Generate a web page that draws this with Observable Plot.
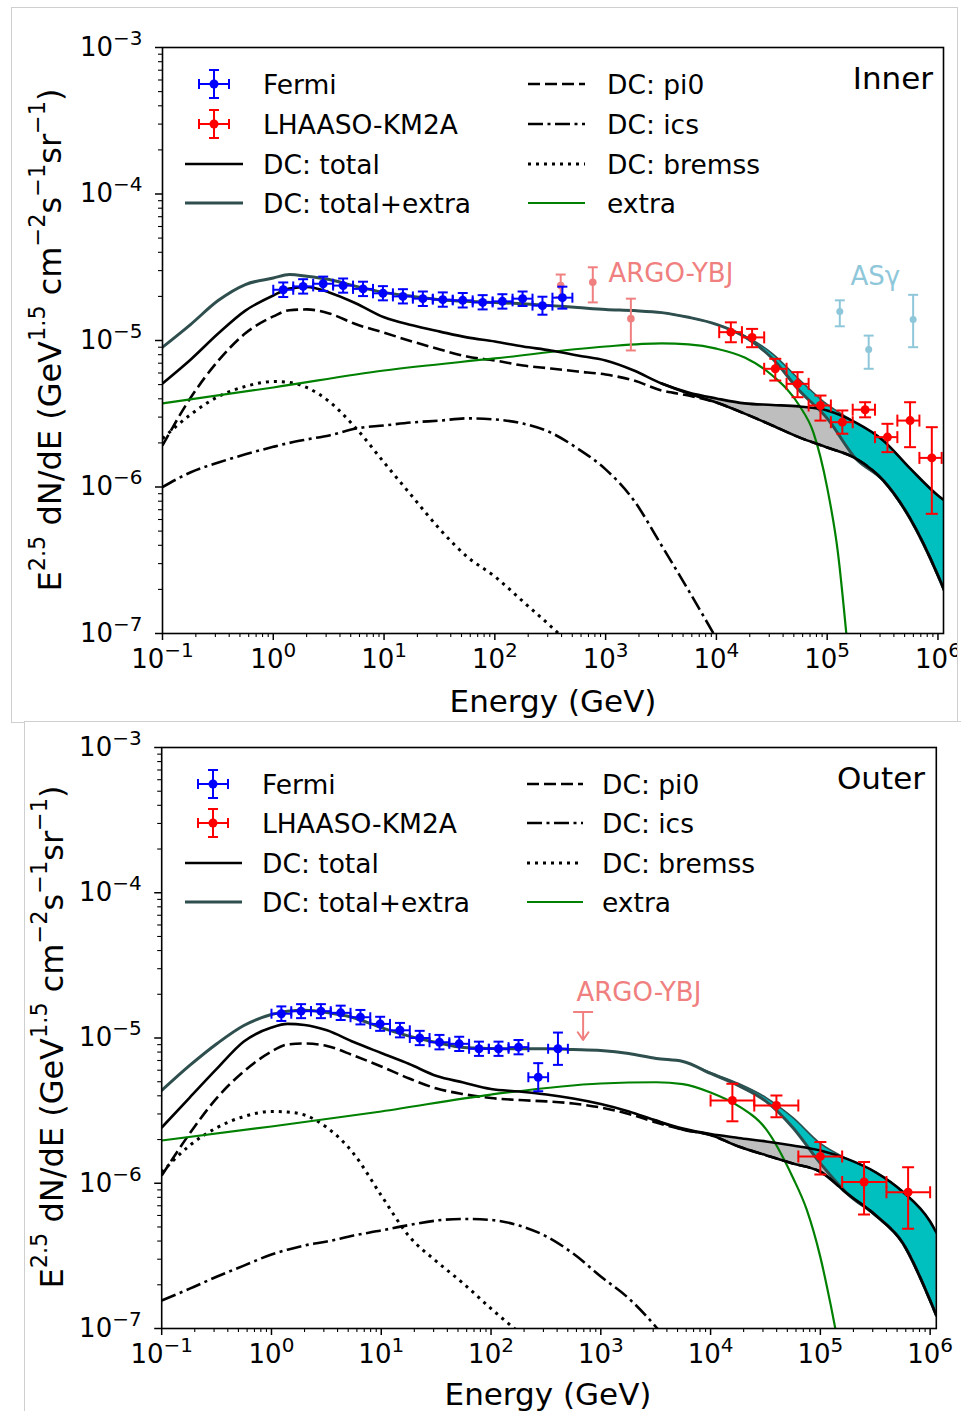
<!DOCTYPE html>
<html><head><meta charset="utf-8">
<script src="https://cdn.jsdelivr.net/npm/d3@7"></script>
<script src="https://cdn.jsdelivr.net/npm/@observablehq/plot@0.6"></script>
<style>
body{margin:0;background:#fff;font-family:"DejaVu Sans",sans-serif;}
#page{position:relative;width:961px;height:1411px;overflow:hidden;background:#fff;}
.panel{position:absolute;overflow:hidden;background:#fff;outline:1px solid #cfcfcf;}
.panel svg{display:block;}
</style></head><body><div id="page"></div>
<script>
// ================= DATA =================
// Energy grid (GeV) for model curves
const E  = [0.1,0.18,0.32,0.56,1,1.4,2,3.2,5.6,10,18,32,56,100,180,320,560,1000,1800,3200,5600,1e4,1.8e4,3.2e4,5.6e4,1e5,1.8e5,3.2e5,5.6e5,1e6,1.14e6];
// Energy grid for the uncertainty bands
const EH = [3200,5600,1e4,1.8e4,3.2e4,5.6e4,1e5,1.8e5,3.2e5,5.6e5,1e6,1.14e6];
// Energy grid for the "extra" component
const EX = [0.1,1,10,100,1000,3200,5600,1e4,1.8e4,3.2e4,5.6e4,7.5e4,1e5,1.25e5,1.5e5];

// ---- Inner region ----
const innerPlus   = [9.0e-6,1.29e-5,1.88e-5,2.41e-5,2.67e-5,2.82e-5,2.75e-5,2.61e-5,2.34e-5,2.13e-5,2.0e-5,1.90e-5,1.85e-5,1.82e-5,1.78e-5,1.73e-5,1.68e-5,1.63e-5,1.60e-5,1.55e-5,1.44e-5,1.29e-5,1.06e-5,7.54e-6,4.56e-6,2.94e-6,1.57e-6,1.11e-6,6.1e-7,2.49e-7,1.97e-7];
const innerTotal  = [5.09e-6,7.42e-6,1.12e-5,1.60e-5,2.03e-5,2.26e-5,2.32e-5,2.13e-5,1.79e-5,1.44e-5,1.27e-5,1.15e-5,1.05e-5,9.84e-6,9.1e-6,8.55e-6,7.9e-6,7.3e-6,6.24e-6,5.09e-6,4.42e-6,4.02e-6,3.72e-6,3.63e-6,3.54e-6,3.33e-6,2.76e-6,2.08e-6,1.34e-6,8.75e-7,8.1e-7];
const innerPi0    = [1.92e-6,4.08e-6,7.3e-6,1.12e-5,1.46e-5,1.61e-5,1.63e-5,1.53e-5,1.29e-5,1.13e-5,9.84e-6,8.68e-6,7.78e-6,7.3e-6,6.75e-6,6.44e-6,6.14e-6,5.86e-6,5.33e-6,4.56e-6,4.21e-6,3.77e-6,3.17e-6,2.63e-6,2.18e-6,1.86e-6,1.57e-6,1.11e-6,6.1e-7,2.49e-7,1.97e-7];
const innerBremss = [2.14e-6,3.13e-6,4.15e-6,4.86e-6,5.25e-6,5.17e-6,4.78e-6,3.83e-6,2.51e-6,1.47e-6,8.61e-7,5.13e-7,3.35e-7,2.45e-7,1.65e-7,1.12e-7,7.5e-8,null,null,null,null,null,null,null,null,null,null,null,null,null,null];
const innerIcs    = [1.0e-6,1.26e-6,1.47e-6,1.67e-6,1.88e-6,2.0e-6,2.11e-6,2.25e-6,2.51e-6,2.63e-6,2.76e-6,2.84e-6,2.94e-6,2.89e-6,2.71e-6,2.35e-6,1.83e-6,1.32e-6,8.09e-7,3.99e-7,1.97e-7,9.25e-8,null,null,null,null,null,null,null,null,null];
const innerExtra  = [3.72e-6,4.78e-6,6.24e-6,7.54e-6,9.1e-6,9.55e-6,9.4e-6,8.8e-6,7.65e-6,5.77e-6,3.6e-6,2.36e-6,9.9e-7,3.57e-7,9.4e-8];
const innerTotHi  = [5.09e-6,4.42e-6,4.02e-6,3.72e-6,3.63e-6,3.54e-6,3.33e-6,2.76e-6,2.08e-6,1.34e-6,8.75e-7,8.1e-7];
const innerTotLo  = [5.09e-6,4.35e-6,3.77e-6,3.17e-6,2.63e-6,2.18e-6,1.86e-6,1.57e-6,1.11e-6,6.1e-7,2.49e-7,1.97e-7];
const innerPlusHi = [1.55e-5,1.44e-5,1.29e-5,1.08e-5,8.15e-6,5.42e-6,3.66e-6,2.76e-6,2.08e-6,1.34e-6,8.75e-7,8.1e-7];
const innerPlusLo = [1.55e-5,1.44e-5,1.29e-5,1.06e-5,7.54e-6,4.56e-6,2.94e-6,1.57e-6,1.11e-6,6.1e-7,2.49e-7,1.97e-7];

// ---- Outer region ----
const outerPlus   = [4.35e-6,6.47e-6,9.17e-6,1.22e-5,1.45e-5,1.53e-5,1.55e-5,1.50e-5,1.38e-5,1.18e-5,1.03e-5,9.31e-6,8.6e-6,8.47e-6,8.43e-6,8.43e-6,8.33e-6,8.2e-6,7.82e-6,7.22e-6,6.89e-6,5.7e-6,4.7e-6,3.66e-6,2.42e-6,1.37e-6,8.36e-7,6.0e-7,3.9e-7,1.56e-7,1.23e-7];
const outerTotal  = [2.42e-6,3.89e-6,6.17e-6,9.46e-6,1.18e-5,1.25e-5,1.23e-5,1.13e-5,9.38e-6,7.88e-6,6.62e-6,5.47e-6,4.94e-6,4.46e-6,4.28e-6,4.08e-6,3.83e-6,3.51e-6,3.12e-6,2.70e-6,2.38e-6,2.18e-6,2.05e-6,1.94e-6,1.82e-6,1.68e-6,1.46e-6,1.19e-6,8.77e-7,5.45e-7,4.58e-7];
const outerPi0    = [1.13e-6,2.2e-6,3.89e-6,5.88e-6,8.07e-6,9.02e-6,9.16e-6,8.81e-6,7.58e-6,6.37e-6,5.26e-6,4.49e-6,4.11e-6,3.86e-6,3.74e-6,3.66e-6,3.54e-6,3.32e-6,3.0e-6,2.62e-6,2.34e-6,2.15e-6,1.79e-6,1.56e-6,1.37e-6,1.2e-6,8.36e-7,6.0e-7,3.9e-7,1.56e-7,1.23e-7];
const outerBremss = [1.19e-6,1.82e-6,2.42e-6,2.88e-6,3.12e-6,3.09e-6,2.95e-6,2.42e-6,1.60e-6,8.24e-7,4.3e-7,2.89e-7,2.04e-7,1.37e-7,9.4e-8,null,null,null,null,null,null,null,null,null,null,null,null,null,null,null,null];
const outerIcs    = [1.56e-7,1.88e-7,2.28e-7,2.71e-7,3.23e-7,3.49e-7,3.73e-7,3.97e-7,4.37e-7,4.73e-7,5.16e-7,5.54e-7,5.68e-7,5.59e-7,5.12e-7,4.3e-7,3.28e-7,2.28e-7,1.61e-7,1.02e-7,6e-8,null,null,null,null,null,null,null,null,null,null];
const outerExtra  = [1.97e-6,2.46e-6,3.12e-6,4.08e-6,4.86e-6,4.96e-6,4.82e-6,4.22e-6,3.4e-6,2.36e-6,1.1e-6,6.6e-7,3.1e-7,1.42e-7,7e-8];
const outerTotHi  = [2.70e-6,2.38e-6,2.18e-6,2.05e-6,1.94e-6,1.82e-6,1.68e-6,1.46e-6,1.19e-6,8.77e-7,5.45e-7,4.58e-7];
const outerTotLo  = [2.70e-6,2.34e-6,2.15e-6,1.79e-6,1.56e-6,1.37e-6,1.2e-6,8.36e-7,6.0e-7,3.9e-7,1.56e-7,1.23e-7];
const outerPlusHi = [7.22e-6,6.89e-6,5.78e-6,4.86e-6,3.89e-6,2.84e-6,1.88e-6,1.46e-6,1.19e-6,8.77e-7,5.45e-7,4.58e-7];
const outerPlusLo = [7.22e-6,6.89e-6,5.7e-6,4.7e-6,3.66e-6,2.42e-6,1.37e-6,8.36e-7,6.0e-7,3.9e-7,1.56e-7,1.23e-7];

// ---- Fermi data ----
const fermiE   = [1.23,1.86,2.82,4.27,6.46,9.77,14.8,22.4,33.9,51.3,77.6,117,178,269,407];
const fermiElo = [1.0,1.514,2.291,3.467,5.248,7.943,12.02,18.2,27.54,41.69,63.1,95.5,144.5,218.8,331.1];
const fermiEhi = [1.514,2.291,3.467,5.248,7.943,12.02,18.2,27.54,41.69,63.1,95.5,144.5,218.8,331.1,501.2];
const innerFermiF  = [2.22e-5,2.34e-5,2.44e-5,2.37e-5,2.25e-5,2.10e-5,2.0e-5,1.93e-5,1.90e-5,1.88e-5,1.82e-5,1.85e-5,1.93e-5,1.73e-5,1.96e-5];
const innerFermiLo = [1.98e-5,2.09e-5,2.18e-5,2.12e-5,2.01e-5,1.88e-5,1.79e-5,1.72e-5,1.70e-5,1.68e-5,1.63e-5,1.65e-5,1.72e-5,1.50e-5,1.65e-5];
const innerFermiHi = [2.49e-5,2.62e-5,2.73e-5,2.65e-5,2.52e-5,2.35e-5,2.24e-5,2.16e-5,2.13e-5,2.11e-5,2.04e-5,2.07e-5,2.16e-5,1.99e-5,2.33e-5];
const outerFermiF  = [1.47e-5,1.53e-5,1.53e-5,1.49e-5,1.39e-5,1.25e-5,1.13e-5,1.0e-5,9.35e-6,9.12e-6,8.43e-6,8.43e-6,8.65e-6,5.37e-6,8.43e-6];
const outerFermiLo = [1.31e-5,1.37e-5,1.37e-5,1.33e-5,1.24e-5,1.12e-5,1.01e-5,8.93e-6,8.35e-6,8.14e-6,7.53e-6,7.53e-6,7.72e-6,4.30e-6,6.53e-6];
const outerFermiHi = [1.65e-5,1.71e-5,1.71e-5,1.67e-5,1.56e-5,1.40e-5,1.27e-5,1.12e-5,1.05e-5,1.02e-5,9.44e-6,9.44e-6,9.69e-6,6.71e-6,1.09e-5];

// ---- LHAASO-KM2A data ----
const innerLhE   = [1.35e4,2.1e4,3.4e4,5.4e4,8.7e4,1.37e5,2.2e5,3.5e5,5.6e5,8.8e5];
const innerLhElo = [1.06e4,1.7e4,2.7e4,4.3e4,6.8e4,1.08e5,1.7e5,2.7e5,4.3e5,6.8e5];
const innerLhEhi = [1.7e4,2.7e4,4.3e4,6.8e4,1.08e5,1.7e5,2.7e5,4.3e5,6.8e5,1.08e6];
const innerLhF   = [1.14e-5,1.05e-5,6.41e-6,5.06e-6,3.60e-6,2.77e-6,3.37e-6,2.19e-6,2.84e-6,1.58e-6];
const innerLhLo  = [9.73e-6,9.0e-6,5.33e-6,4.10e-6,2.84e-6,2.31e-6,2.99e-6,1.73e-6,1.87e-6,6.56e-7];
const innerLhHi  = [1.33e-5,1.20e-5,7.50e-6,6.08e-6,4.21e-6,3.33e-6,3.79e-6,2.70e-6,3.79e-6,2.56e-6];
const outerLhE   = [1.58e4,3.98e4,1e5,2.5e5,6.3e5];
const outerLhElo = [1e4,2.5e4,6.3e4,1.58e5,4e5];
const outerLhEhi = [2.5e4,6.3e4,1.58e5,4e5,1e6];
const outerLhF   = [3.71e-6,3.43e-6,1.53e-6,1.02e-6,8.68e-7];
const outerLhLo  = [2.67e-6,2.85e-6,1.15e-6,6.1e-7,4.86e-7];
const outerLhHi  = [4.84e-6,4.02e-6,1.92e-6,1.40e-6,1.29e-6];

// ---- ARGO-YBJ and AS-gamma (inner), ARGO upper limit (outer) ----
const argoE  = [393,766,1690];
const argoF  = [2.37e-5,2.50e-5,1.41e-5];
const argoLo = [1.98e-5,1.82e-5,8.55e-6];
const argoHi = [2.82e-5,3.16e-5,1.93e-5];
const asgE   = [1.30e5,2.37e5,5.97e5];
const asgF   = [1.58e-5,8.68e-6,1.39e-5];
const asgLo  = [1.25e-5,6.41e-6,9.0e-6];
const asgHi  = [1.88e-5,1.08e-5,2.05e-5];
const argoUlE = [690];
const argoUlF = [1.51e-5];
const argoUlTip = [9.7e-6];

// ---- text ----
const xTickValues = [0.1,1,10,100,1000,1e4,1e5,1e6];
const xTickLabels = ["10⁻¹","10⁰","10¹","10²","10³","10⁴","10⁵","10⁶"];
const yTickValues = [1e-7,1e-6,1e-5,1e-4,1e-3];
const yTickLabels = ["10⁻⁷","10⁻⁶","10⁻⁵","10⁻⁴","10⁻³"];
const legendLeft  = ["Fermi","LHAASO-KM2A","DC: total","DC: total+extra"];
const legendRight = ["DC: pi0","DC: ics","DC: bremss","extra"];
const innerNotes = [{x:1060,y:2.86e-5,text:"ARGO-YBJ"}];
const innerNotes2 = [{x:1.62e5,y:2.73e-5,text:"ASγ"}];
const outerNotes = [{x:600,y:2.06e-5,text:"ARGO-YBJ"}];

// ================= HELPERS =================
const C = {slate:"#2F4F4F", cyan:"#00BFBF", gray:"#BEBEBE", green:"#008000", blue:"#0000FF", red:"#FF0000", argo:"#F08080", asg:"#8FC7DA"};
const FONT = "DejaVu Sans";
const rowsOf = (xs, ys) => xs.map((x,i)=>({x, y: ys[i]}));
const bandOf = (xs, lo, hi) => xs.map((x,i)=>({x, lo: lo[i], hi: hi[i]}));
const ptsOf = (xs, xlo, xhi, ys, ylo, yhi) => xs.map((x,i)=>({x, xlo: xlo ? xlo[i] : x, xhi: xhi ? xhi[i] : x, y: ys[i], ylo: ylo[i], yhi: yhi[i]}));
const capH = {draw(ctx, size){const r=Math.sqrt(size/Math.PI); ctx.moveTo(-r,0); ctx.lineTo(r,0);}};
const capV = {draw(ctx, size){const r=Math.sqrt(size/Math.PI); ctx.moveTo(0,-r); ctx.lineTo(0,r);}};
const SUP = {"⁻":"−","⁰":"0","¹":"1","²":"2","³":"3","⁴":"4","⁵":"5","⁶":"6","⁷":"7","⁸":"8","⁹":"9"};

function errMarks(rows, color, {r=4.2, cap=5, sw=2, xbars=true} = {}){
  const m = [
    Plot.ruleX(rows, {x:"x", y1:"ylo", y2:"yhi", stroke:color, strokeWidth:sw, clip:true}),
    Plot.dot(rows, {x:"x", y:"ylo", symbol:capH, r:cap, stroke:color, strokeWidth:sw, fill:"none", clip:true}),
    Plot.dot(rows, {x:"x", y:"yhi", symbol:capH, r:cap, stroke:color, strokeWidth:sw, fill:"none", clip:true})
  ];
  if (xbars) m.push(
    Plot.ruleY(rows, {y:"y", x1:"xlo", x2:"xhi", stroke:color, strokeWidth:sw, clip:true}),
    Plot.dot(rows, {x:"xlo", y:"y", symbol:capV, r:cap, stroke:color, strokeWidth:sw, fill:"none", clip:true}),
    Plot.dot(rows, {x:"xhi", y:"y", symbol:capV, r:cap, stroke:color, strokeWidth:sw, fill:"none", clip:true})
  );
  m.push(Plot.dot(rows, {x:"x", y:"y", r, fill:color, stroke:"none", clip:true}));
  return m;
}

function minorTicks(d0, d1, max){
  const out = [];
  for (let d = d0; d <= d1; d++) for (let k = 2; k <= 9; k++) { const v = k * Math.pow(10, d); if (v <= max) out.push(v); }
  return out;
}

const lineStyles = {
  plus:   {stroke:C.slate, strokeWidth:3},
  total:  {stroke:"black", strokeWidth:2.6},
  pi0:    {stroke:"black", strokeWidth:2.6, strokeDasharray:"12,5", strokeLinecap:"butt"},
  ics:    {stroke:"black", strokeWidth:2.6, strokeDasharray:"15,4.5,3,4.5", strokeLinecap:"butt"},
  bremss: {stroke:"black", strokeWidth:3, strokeDasharray:"3,5", strokeLinecap:"butt"},
  extra:  {stroke:C.green, strokeWidth:2.2}
};

function addSupText(sel, parts, size){
  let prev = false;
  parts.forEach(([t, sup]) => {
    const ts = sel.append("tspan").text(t);
    if (sup) ts.attr("font-size", size*0.7);
    if (sup && !prev) ts.attr("dy", -0.4*size);
    if (!sup && prev) ts.attr("dy", 0.4*size);
    prev = sup;
  });
}

// rebuild "10⁻³"-style tick labels with a real superscript tspan
function superscriptTicks(s){
  s.selectAll("text").each(function(){
    const el = d3.select(this);
    if (el.selectAll("tspan").size() > 0) return;
    const t = el.text();
    const m = /^10([⁻⁰¹²³⁴⁵⁶⁷⁸⁹]+)$/.exec(t);
    if (!m) return;
    const exp = [...m[1]].map(c => SUP[c]).join("");
    el.text(null);
    el.append("tspan").text("10");
    el.append("tspan").attr("font-size", 20).attr("dy", -11).text(exp);
  });
}

function panel(p){
  const div = document.createElement("div");
  div.className = "panel";
  Object.assign(div.style, {left:p.left+"px", top:p.top+"px", width:p.width+"px", height:p.height+"px"});
  document.getElementById("page").appendChild(div);

  const xLab = new Map(xTickValues.map((v,i)=>[v, xTickLabels[i]]));
  const yLab = new Map(yTickValues.map((v,i)=>[v, yTickLabels[i]]));
  const L = (arr, style) => Plot.line(rowsOf(E, arr), {x:"x", y:"y", curve:"monotone-x", clip:true, ...style});
  const d = p.data;

  const marks = [
    Plot.areaY(bandOf(EH, d.totLo, d.totHi), {x:"x", y1:"lo", y2:"hi", fill:C.gray, curve:"monotone-x", clip:true}),
    Plot.areaY(bandOf(EH, d.plusLo, d.plusHi), {x:"x", y1:"lo", y2:"hi", fill:C.cyan, curve:"monotone-x", clip:true}),
    L(d.ics, lineStyles.ics),
    L(d.bremss, lineStyles.bremss),
    L(d.pi0, lineStyles.pi0),
    Plot.line(rowsOf(EX, d.extra), {x:"x", y:"y", curve:"monotone-x", clip:true, ...lineStyles.extra}),
    L(d.plus, lineStyles.plus),
    Plot.line(rowsOf(EH, d.plusHi), {x:"x", y:"y", curve:"monotone-x", clip:true, stroke:C.slate, strokeWidth:1.6}),
    L(d.total, lineStyles.total),
    Plot.line(rowsOf(EH, d.totLo), {x:"x", y:"y", curve:"monotone-x", clip:true, stroke:"black", strokeWidth:2.6}),
    ...p.extraMarks,
    ...errMarks(ptsOf(fermiE, fermiElo, fermiEhi, d.fermiF, d.fermiLo, d.fermiHi), C.blue, {r:4.5, cap:5}),
    ...errMarks(ptsOf(d.lhE, d.lhElo, d.lhEhi, d.lhF, d.lhLo, d.lhHi), C.red, {r:4.5, cap:6}),
    Plot.frame({stroke:"black", strokeWidth:1.6}),
    Plot.axisX({ticks: xTickValues, tickFormat: v => xLab.get(v), tickSize:7, tickPadding:9, fontSize:26, label:null, strokeWidth:1.5}),
    Plot.axisX({ticks: minorTicks(-1, 6, p.xMax), tickFormat: () => "", tickSize:4, label:null, strokeWidth:1.1}),
    Plot.axisY({ticks: yTickValues, tickFormat: v => yLab.get(v), tickSize:7, tickPadding:13, fontSize:26, label:null, strokeWidth:1.5}),
    Plot.axisY({ticks: minorTicks(-7, -4, 1e-3), tickFormat: () => "", tickSize:4, label:null, strokeWidth:1.1})
  ];

  const svg = Plot.plot({
    width: p.width, height: p.height,
    marginLeft: p.ml, marginRight: p.mr, marginTop: p.mt, marginBottom: p.mb,
    x: {type:"log", domain:[0.1, p.xMax]},
    y: {type:"log", domain:[1e-7, 1e-3]},
    style: {fontFamily: FONT, fontSize: "26px", color: "black", background: "white", overflow: "visible", maxWidth: "none"},
    marks
  });
  div.appendChild(svg);

  const s = d3.select(svg);
  superscriptTicks(s);

  // Axis titles
  const yl = s.append("text").attr("font-family", FONT).attr("font-size", 32).attr("text-anchor","middle")
    .attr("dominant-baseline","central").attr("fill","black")
    .attr("transform", `translate(${p.yLabel[0]},${p.yLabel[1]}) rotate(-90)`);
  addSupText(yl, [["E",0],["2.5",1],[" dN/dE (GeV",0],["1.5",1],[" cm",0],["−2",1],["s",0],["−1",1],["sr",0],["−1",1],[")",0]], 32);
  s.append("text").attr("font-family", FONT).attr("font-size", 31).attr("text-anchor","middle")
    .attr("dominant-baseline","central").attr("x", p.xLabel[0]).attr("y", p.xLabel[1]).text("Energy (GeV)");

  // Region label
  s.append("text").attr("font-family", FONT).attr("font-size", 31).attr("text-anchor","end")
    .attr("dominant-baseline","central").attr("x", p.region[0]).attr("y", p.region[1]).text(p.region[2]);

  // Legend
  const g = s.append("g").attr("font-family", FONT).attr("font-size", 26.5).attr("fill","black").attr("text-anchor","start");
  const lg = p.legend;
  const rowsY = lg.rows;
  [[C.blue,0],[C.red,1]].forEach(([col, i]) => {
    const cx = lg.mx, cy = rowsY[i];
    const gg = g.append("g").attr("stroke", col).attr("stroke-width", 2).attr("fill","none");
    gg.append("line").attr("x1", cx-15).attr("x2", cx+15).attr("y1", cy).attr("y2", cy);
    gg.append("line").attr("x1", cx).attr("x2", cx).attr("y1", cy-14).attr("y2", cy+14);
    gg.append("line").attr("x1", cx-15).attr("x2", cx-15).attr("y1", cy-5).attr("y2", cy+5);
    gg.append("line").attr("x1", cx+15).attr("x2", cx+15).attr("y1", cy-5).attr("y2", cy+5);
    gg.append("line").attr("x1", cx-5).attr("x2", cx+5).attr("y1", cy-14).attr("y2", cy-14);
    gg.append("line").attr("x1", cx-5).attr("x2", cx+5).attr("y1", cy+14).attr("y2", cy+14);
    g.append("circle").attr("cx", cx).attr("cy", cy).attr("r", 4.5).attr("fill", col);
  });
  const hl = (x1, x2, y, st) => g.append("line").attr("x1", x1).attr("x2", x2).attr("y1", y).attr("y2", y)
    .attr("stroke", st.stroke).attr("stroke-width", st.strokeWidth).attr("stroke-dasharray", st.strokeDasharray || null)
    .attr("stroke-linecap", st.strokeLinecap || "butt");
  hl(lg.c1[0], lg.c1[1], rowsY[2], lineStyles.total);
  hl(lg.c1[0], lg.c1[1], rowsY[3], {stroke:C.slate, strokeWidth:3});
  hl(lg.c2[0], lg.c2[1], rowsY[0], lineStyles.pi0);
  hl(lg.c2[0], lg.c2[1], rowsY[1], lineStyles.ics);
  hl(lg.c2[0], lg.c2[1], rowsY[2], lineStyles.bremss);
  hl(lg.c2[0], lg.c2[1], rowsY[3], lineStyles.extra);
  legendLeft.forEach((t,i) => g.append("text").attr("x", lg.t1).attr("y", rowsY[i]).attr("text-anchor","start").attr("dominant-baseline","central").text(t));
  legendRight.forEach((t,i) => g.append("text").attr("x", lg.t2).attr("y", rowsY[i]).attr("text-anchor","start").attr("dominant-baseline","central").text(t));
}

// ================= PANELS =================
panel({
  left:12, top:8, width:945, height:714, ml:150, mr:14, mt:39, mb:89, xMax:1.122e6,
  data:{plus:innerPlus, total:innerTotal, pi0:innerPi0, bremss:innerBremss, ics:innerIcs, extra:innerExtra,
        totHi:innerTotHi, totLo:innerTotLo, plusHi:innerPlusHi, plusLo:innerPlusLo,
        fermiF:innerFermiF, fermiLo:innerFermiLo, fermiHi:innerFermiHi,
        lhE:innerLhE, lhElo:innerLhElo, lhEhi:innerLhEhi, lhF:innerLhF, lhLo:innerLhLo, lhHi:innerLhHi},
  extraMarks: [
    ...errMarks(ptsOf(argoE, null, null, argoF, argoLo, argoHi), C.argo, {r:3.8, cap:5, xbars:false}),
    ...errMarks(ptsOf(asgE, null, null, asgF, asgLo, asgHi), C.asg, {r:3.5, cap:5, xbars:false}),
    Plot.text(innerNotes, {x:"x", y:"y", text:"text", fill:C.argo, fontSize:26, textAnchor:"start", fontFamily:FONT}),
    Plot.text(innerNotes2, {x:"x", y:"y", text:"text", fill:C.asg, fontSize:26, textAnchor:"start", fontFamily:FONT})
  ],
  yLabel:[38, 332], xLabel:[541, 693], region:[921, 70, "Inner"],
  legend:{rows:[76,116,156,195], mx:202, c1:[173,231], t1:251, c2:[516,573], t2:595}
});

panel({
  left:25, top:722, width:936, height:689, ml:136.2, mr:25.2, mt:25, mb:83, xMax:1.138e6,
  data:{plus:outerPlus, total:outerTotal, pi0:outerPi0, bremss:outerBremss, ics:outerIcs, extra:outerExtra,
        totHi:outerTotHi, totLo:outerTotLo, plusHi:outerPlusHi, plusLo:outerPlusLo,
        fermiF:outerFermiF, fermiLo:outerFermiLo, fermiHi:outerFermiHi,
        lhE:outerLhE, lhElo:outerLhElo, lhEhi:outerLhEhi, lhF:outerLhF, lhLo:outerLhLo, lhHi:outerLhHi},
  extraMarks: [
    Plot.arrow(argoUlE.map((e,i)=>({x:e, y1:argoUlF[i], y2:argoUlTip[i]})), {x1:"x", x2:"x", y1:"y1", y2:"y2", stroke:C.argo, strokeWidth:2, headLength:11, headAngle:70}),
    Plot.dot(argoUlE.map((e,i)=>({x:e, y:argoUlF[i]})), {x:"x", y:"y", symbol:capH, r:10, stroke:C.argo, strokeWidth:2, fill:"none"}),
    Plot.text(outerNotes, {x:"x", y:"y", text:"text", fill:C.argo, fontSize:26, textAnchor:"start", fontFamily:FONT})
  ],
  yLabel:[27, 315], xLabel:[523, 672], region:[900, 56, "Outer"],
  legend:{rows:[62,101,141,180], mx:188, c1:[160,217], t1:237, c2:[502,558], t2:577}
});
</script></body></html>
